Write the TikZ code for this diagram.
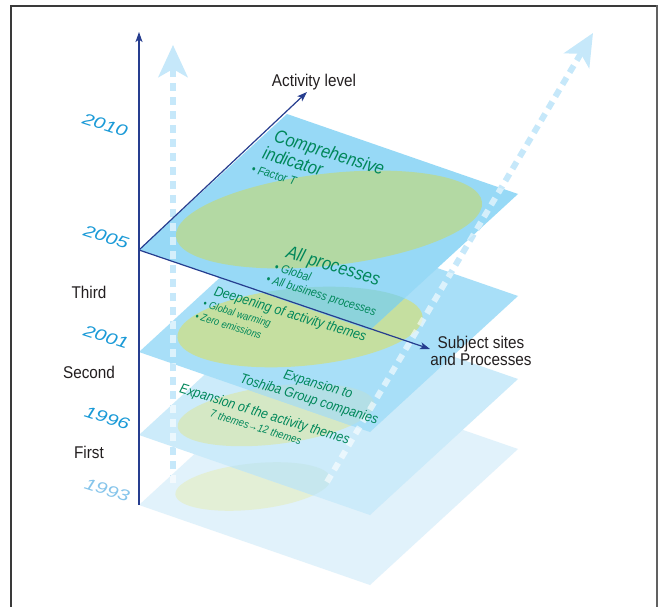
\documentclass[tikz,border=0pt]{standalone}
\usepackage{fontspec}
\setmainfont{Liberation Sans}[FakeStretch=0.9]
\newfontfamily\themefont{Liberation Sans}[FakeStretch=0.88]
\newfontfamily\yearfont{Liberation Sans}[FakeStretch=1.3]
\usetikzlibrary{arrows.meta}

\definecolor{axisnavy}{HTML}{263D8F}
\definecolor{framegray}{HTML}{3A3A3A}
\definecolor{labelblack}{HTML}{231F20}
\definecolor{themegreen}{HTML}{00875A}
\definecolor{yearblue}{HTML}{1A9AD7}
\definecolor{yearpale}{HTML}{86C5EB}
\definecolor{trendblue}{HTML}{C6E8FA}
% layer planes, from the latest (darkest) to the earliest (palest)
\definecolor{planeA}{HTML}{97D9F6}
\definecolor{planeB}{HTML}{A8DFF8}
\definecolor{planeC}{HTML}{CCEBFA}
\definecolor{planeD}{HTML}{E1F2FB}
% theme areas lying on each plane
\definecolor{discA}{HTML}{B3D9A3}
\definecolor{discB}{HTML}{C5DFA0}
\definecolor{discC}{HTML}{D5E8C5}
\definecolor{discD}{HTML}{E3EFD6}
% the same areas seen through the plane above them
\definecolor{discBunder}{HTML}{8CD3DB}
\definecolor{discCunder}{HTML}{B3DFE6}
\definecolor{discDunder}{HTML}{C6E7EE}

% one layer of the stack, given the height of its left corner
\newcommand\planeoutline[1]{(139,#1) -- (370,{#1+80}) -- (518,{#1-56}) -- (287,{#1-136}) -- cycle}

\begin{document}
\begin{tikzpicture}[x=1pt,y=-1pt,
  trend/.style={draw=trendblue, line width=6pt, dash pattern=on 8pt off 6pt,
    -{Stealth[length=32pt,width=29pt,inset=8pt,fill=trendblue]}},
  trendlight/.style={draw=white, draw opacity=0.6, line width=6pt, dash pattern=on 8pt off 6pt},
  axis/.style={draw=axisnavy, line width=1.2pt,
    -{Stealth[length=10pt,width=7pt,inset=2.5pt]}},
  label/.style={text=labelblack, inner sep=0pt, font=\fontsize{17}{17}\selectfont},
  year/.style={text=yearblue, inner sep=0pt, rotate=-18,
    font=\yearfont\itshape\fontsize{16}{16}\selectfont},
  theme/.style={text=themegreen, inner sep=0pt, rotate=-17},
  big/.style={theme, font=\themefont\itshape\fontsize{18.5}{18.5}\selectfont},
  mid/.style={theme, font=\themefont\itshape\fontsize{14}{14}\selectfont},
  small/.style={theme, font=\themefont\itshape\fontsize{12}{12}\selectfont},
  tiny/.style={theme, font=\themefont\itshape\fontsize{10.5}{10.5}\selectfont}]

\useasboundingbox (0,0) rectangle (664,607);
\fill[white] (0,0) rectangle (664,607);

% reference points
\coordinate (O) at (139,250);
\coordinate (axisBottom) at (139,505);
\coordinate (axisTop) at (139,32);
\coordinate (actTip) at (307,92);
\coordinate (subjTip) at (430,349);
\coordinate (vStart) at (173,483);
\coordinate (vTip) at (173,45);
\coordinate (dStart) at (327,482);
\coordinate (dTip) at (593,33);

% frame, open at the bottom
\draw[line width=1.2pt, draw=framegray] (11,607) -- (11,6) -- (657,6);
\draw[line width=2pt, draw=framegray!80] (657,5.4) -- (657,607);

% growth trend arrows (their parts over the layers are lightened later)
\draw[trend] (vStart) -- (vTip);
\draw[trend] (dStart) -- (dTip);

% 1993 layer
\fill[planeD] \planeoutline{505};
\fill[discD, rotate around={6:(253,486.5)}] (253,486.5) ellipse [x radius=78pt, y radius=23pt];

% 1996 layer
\fill[planeC] \planeoutline{435};
\begin{scope}
  \clip \planeoutline{435};
  \fill[discDunder, rotate around={6:(253,486.5)}] (253,486.5) ellipse [x radius=78pt, y radius=23pt];
\end{scope}
\fill[discC, rotate around={7:(276,415)}] (276,415) ellipse [x radius=99pt, y radius=29pt];

% 2001 layer
\fill[planeB] \planeoutline{352};
\begin{scope}
  \clip \planeoutline{352};
  \fill[discCunder, rotate around={7:(276,415)}] (276,415) ellipse [x radius=99pt, y radius=29pt];
\end{scope}
\fill[discB, rotate around={5:(300,327)}] (300,327) ellipse [x radius=123pt, y radius=39pt];

% 2005 layer
\fill[planeA] \planeoutline{250};
\begin{scope}
  \clip \planeoutline{250};
  \fill[discBunder, rotate around={5:(300,327)}] (300,327) ellipse [x radius=123pt, y radius=39pt];
\end{scope}
\fill[discA, rotate around={6.5:(329,219.5)}] (329,219.5) ellipse [x radius=154pt, y radius=46pt];

% trend arrows seen over the layers
\begin{scope}
  \clip \planeoutline{505} \planeoutline{435} \planeoutline{352} \planeoutline{250};
  \draw[trendlight] (vStart) -- (vTip);
  \draw[trendlight] (dStart) -- (dTip);
\end{scope}

% axes
\draw[axis] (axisBottom) -- (axisTop);
\draw[axis] (O) -- (actTip);
\draw[axis] (O) -- (subjTip);

% axis labels
\node[label, anchor=base] (actLabel) at (314,87) {Activity level};
\node[label, anchor=base, align=center] (subjLabel) at (481,365) {Subject sites\\and Processes};

% stages
\node[label, anchor=base] (third) at (89,298) {Third};
\node[label, anchor=base] (second) at (89,378) {Second};
\node[label, anchor=base] (first) at (89,458) {First};

% years
\node[year] (y2010) at (105,125) {2010};
\node[year] (y2005) at (106,237) {2005};
\node[year] (y2001) at (106,337) {2001};
\node[year] (y1996) at (107,418) {1996};
\node[year, text=yearpale] (y1993) at (107,490) {1993};

% themes on the 2005 layer
\node[big] (tComp) at (329,154) {Comprehensive};
\node[big] (tInd) at (293,161) {indicator};
\node[small] (tFactor) at (274,175) {• Factor T};
\node[big] (tAll) at (333,267) {All processes};
\node[small] (tGlobal) at (293,272) {• Global};
\node[small] (tBusiness) at (321,296) {• All business processes};

% themes on the 2001 layer
\node[mid] (tDeep) at (290,315) {Deepening of activity themes};
\node[tiny] (tWarming) at (237,314.5) {• Global warming};
\node[tiny] (tZero) at (228.5,325.5) {• Zero emissions};

% themes on the 1996 layer
\node[mid] (tExpTo) at (318,385) {Expansion to};
\node[mid] (tToshiba) at (309,400) {Toshiba Group companies};
\node[mid] (tExpThemes) at (264.5,415) {Expansion of the activity themes};
\node[tiny, font=\themefont\itshape\fontsize{11}{11}\selectfont] (tCount) at (256,427) {7 themes→12 themes};

\end{tikzpicture}
\end{document}
